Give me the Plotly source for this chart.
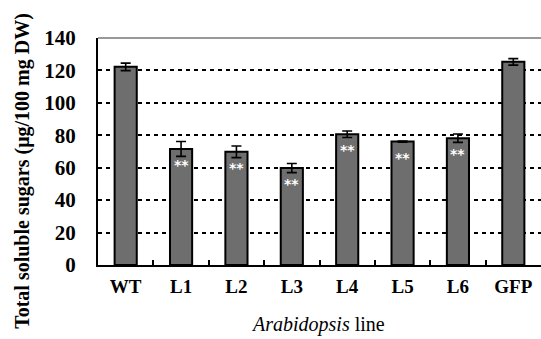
import plotly.graph_objects as go

lines = ["WT", "L1", "L2", "L3", "L4", "L5", "L6", "GFP"]
sugars = [122.2, 71.6, 69.8, 59.8, 80.6, 76.1, 78.2, 125.3]
errors = [2.3, 4.6, 3.6, 2.8, 2.0, 0.3, 2.6, 2.0]
signif = ["", "**", "**", "**", "**", "**", "**", ""]
yticks = [0, 20, 40, 60, 80, 100, 120, 140]

serif = "Liberation Serif"

fig = go.Figure()
fig.add_trace(go.Bar(
    x=lines, y=sugars, width=0.4,
    marker=dict(color="#6e6e6e", line=dict(color="black", width=2)),
    error_y=dict(type="data", array=errors, visible=True, color="black",
                 thickness=1.6, width=5),
))

for cat, v, s in zip(lines, sugars, signif):
    if s:
        fig.add_annotation(x=cat, y=v, text=s, showarrow=False, yshift=-16,
                           font=dict(color="white", size=14, family="DejaVu Sans", weight="bold"))

# y title
fig.add_annotation(xref="paper", yref="paper", x=-0.172, y=0.414, textangle=-90,
                   text="Total soluble sugars (μg/100 mg DW)", showarrow=False,
                   xanchor="center", yanchor="middle",
                   font=dict(family=serif, size=20, color="black", weight="bold"))
# x title
fig.add_annotation(xref="paper", yref="paper", x=0.497, y=-0.264,
                   text="<i>Arabidopsis</i> line", showarrow=False,
                   xanchor="center", yanchor="middle",
                   font=dict(family=serif, size=20, color="black"))

# top border
fig.add_shape(type="line", xref="paper", yref="paper", x0=0, x1=1, y0=1, y1=1,
              line=dict(color="#999999", width=2))

fig.update_layout(
    width=541, height=339,
    margin=dict(l=98, r=0, t=38, b=74, autoexpand=False),
    paper_bgcolor="white", plot_bgcolor="white",
    showlegend=False,
    bargap=0.6,
)
fig.update_xaxes(
    range=[-0.5, 7.5], showline=True, linecolor="black", linewidth=2,
    ticks="inside", tickson="boundaries", ticklen=5, tickwidth=1.5, tickcolor="black",
    tickfont=dict(family=serif, size=19, color="black", weight="bold"),
    ticklabelstandoff=3, showgrid=False, zeroline=False, automargin=False,
)
fig.update_yaxes(
    range=[0, 140], tickvals=yticks, showline=True, linecolor="black", linewidth=2,
    ticks="", tickfont=dict(family=serif, size=21, color="black", weight="bold"),
    ticklabelstandoff=16, automargin=False,
    showgrid=True, gridcolor="black", gridwidth=1.6, griddash="4px,4px",
    zeroline=False,
)

fig.write_html("out.html", config={"displayModeBar": False},
               post_script="document.body.style.margin='0';document.body.style.overflow='hidden';")
